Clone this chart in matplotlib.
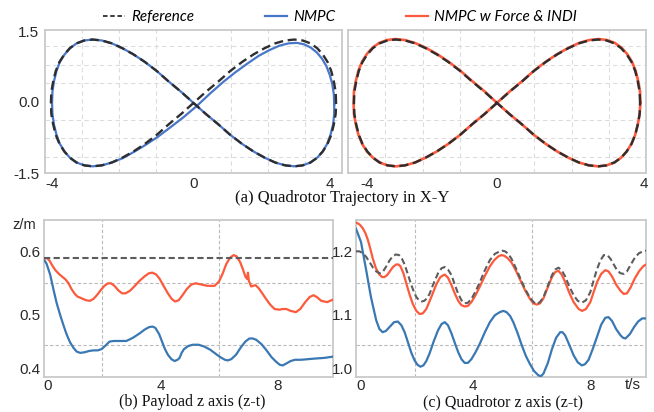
import matplotlib
matplotlib.use("Agg")
import matplotlib.pyplot as plt
import matplotlib.transforms as mtransforms
from matplotlib.lines import Line2D

# ---------------- data ----------------
# (a) X-Y trajectories
ref_x = [3.84, 3.83, 3.78, 3.71, 3.61, 3.48, 3.33, 3.15, 2.94, 2.72, 2.47, 2.20, 1.92, 1.62, 1.31, 0.99, 0.67, 0.33, 0.00,
         -0.33, -0.67, -0.99, -1.31, -1.62, -1.92, -2.20, -2.47, -2.72, -2.94, -3.15, -3.33, -3.48, -3.61, -3.71, -3.78, -3.83, -3.84,
         -3.83, -3.78, -3.71, -3.61, -3.48, -3.33, -3.15, -2.94, -2.72, -2.47, -2.20, -1.92, -1.62, -1.31, -0.99, -0.67, -0.33, 0.00,
         0.33, 0.67, 0.99, 1.31, 1.62, 1.92, 2.20, 2.47, 2.72, 2.94, 3.15, 3.33, 3.48, 3.61, 3.71, 3.78, 3.83, 3.84]
ref_y = [-0.03, 0.20, 0.42, 0.64, 0.83, 0.99, 1.12, 1.22, 1.28, 1.30, 1.28, 1.22, 1.12, 0.99, 0.83, 0.64, 0.42, 0.20, -0.03,
         -0.26, -0.48, -0.70, -0.89, -1.05, -1.18, -1.28, -1.34, -1.36, -1.34, -1.28, -1.18, -1.05, -0.89, -0.70, -0.48, -0.26, -0.03,
         0.20, 0.42, 0.64, 0.83, 0.99, 1.12, 1.22, 1.28, 1.30, 1.28, 1.22, 1.12, 0.99, 0.83, 0.64, 0.42, 0.20, -0.03,
         -0.26, -0.48, -0.70, -0.89, -1.05, -1.18, -1.28, -1.34, -1.36, -1.34, -1.28, -1.18, -1.05, -0.89, -0.70, -0.48, -0.26, -0.03]

nmpc_x = [3.79, 3.78, 3.74, 3.67, 3.58, 3.46, 3.32, 3.16, 2.98, 2.78, 2.56, 2.31, 2.05, 1.76, 1.46, 1.14, 0.80, 0.45, 0.08,
          -0.27, -0.62, -0.96, -1.29, -1.61, -1.91, -2.20, -2.47, -2.72, -2.94, -3.15, -3.33, -3.47, -3.60, -3.69, -3.76, -3.80, -3.81,
          -3.80, -3.76, -3.69, -3.60, -3.47, -3.32, -3.15, -2.94, -2.72, -2.47, -2.20, -1.92, -1.62, -1.31, -0.99, -0.67, -0.33, 0.00,
          0.33, 0.67, 0.99, 1.31, 1.62, 1.92, 2.20, 2.47, 2.72, 2.94, 3.15, 3.33, 3.48, 3.60, 3.69, 3.76, 3.79, 3.79]
nmpc_y = [-0.06, 0.15, 0.36, 0.56, 0.74, 0.90, 1.03, 1.13, 1.20, 1.23, 1.22, 1.17, 1.08, 0.96, 0.80, 0.62, 0.41, 0.17, -0.10,
          -0.33, -0.54, -0.74, -0.91, -1.06, -1.19, -1.28, -1.34, -1.36, -1.34, -1.28, -1.18, -1.05, -0.89, -0.70, -0.48, -0.26, -0.03,
          0.20, 0.42, 0.64, 0.83, 0.99, 1.12, 1.22, 1.28, 1.30, 1.28, 1.22, 1.12, 0.99, 0.83, 0.64, 0.42, 0.20, -0.03,
          -0.26, -0.48, -0.70, -0.89, -1.05, -1.18, -1.28, -1.34, -1.36, -1.34, -1.28, -1.18, -1.05, -0.89, -0.70, -0.48, -0.26, -0.06]

indi_x = [3.85, 3.84, 3.79, 3.72, 3.62, 3.49, 3.34, 3.16, 2.95, 2.73, 2.48, 2.21, 1.93, 1.63, 1.32, 1.00, 0.68, 0.34, 0.01,
          -0.33, -0.67, -0.99, -1.31, -1.62, -1.92, -2.20, -2.47, -2.72, -2.94, -3.15, -3.33, -3.49, -3.62, -3.72, -3.79, -3.84, -3.85,
          -3.84, -3.79, -3.72, -3.62, -3.49, -3.34, -3.16, -2.95, -2.73, -2.48, -2.21, -1.92, -1.62, -1.31, -0.99, -0.67, -0.33, 0.00,
          0.33, 0.67, 0.99, 1.31, 1.62, 1.92, 2.20, 2.47, 2.72, 2.94, 3.15, 3.33, 3.48, 3.61, 3.71, 3.78, 3.83, 3.85]
indi_y = [-0.02, 0.21, 0.43, 0.65, 0.84, 1.00, 1.13, 1.23, 1.29, 1.31, 1.29, 1.23, 1.13, 1.00, 0.84, 0.65, 0.43, 0.21, -0.02,
          -0.26, -0.48, -0.70, -0.89, -1.05, -1.18, -1.28, -1.34, -1.36, -1.34, -1.28, -1.18, -1.05, -0.89, -0.70, -0.48, -0.26, -0.03,
          0.21, 0.43, 0.65, 0.84, 1.00, 1.13, 1.23, 1.29, 1.31, 1.29, 1.23, 1.13, 1.00, 0.84, 0.65, 0.43, 0.21, -0.03,
          -0.26, -0.48, -0.70, -0.89, -1.05, -1.18, -1.28, -1.34, -1.36, -1.34, -1.28, -1.18, -1.05, -0.89, -0.70, -0.48, -0.26, -0.02]

# (b) payload z
payload_ref_t = [0.0, 9.9]
payload_ref_z = [0.59, 0.59]
payload_nmpc_t = [0, 0.1, 0.22, 0.33, 0.44, 0.56, 0.67, 0.78, 0.9, 1.02, 1.13, 1.25, 1.4, 1.55, 1.7, 1.85, 1.98, 2.1,
                  2.25, 2.4, 2.6, 2.83, 3.05, 3.28, 3.45, 3.6, 3.72, 3.82, 3.95, 4.05, 4.15, 4.25, 4.37, 4.48, 4.58,
                  4.65, 4.72, 4.8, 4.95, 5.1, 5.3, 5.5, 5.7, 5.9, 6.05, 6.2, 6.3, 6.42, 6.58, 6.75, 6.9, 7.04, 7.15,
                  7.27, 7.45, 7.61, 7.8, 7.95, 8.08, 8.18, 8.3, 8.45, 8.6, 8.8, 9.05, 9.3, 9.6, 9.9]
payload_nmpc_z = [0.588, 0.580, 0.563, 0.540, 0.518, 0.499, 0.483, 0.468, 0.455, 0.446, 0.440, 0.438, 0.439, 0.441,
                  0.442, 0.442, 0.444, 0.449, 0.456, 0.457, 0.457, 0.457, 0.462, 0.469, 0.475, 0.479, 0.480, 0.478,
                  0.468, 0.456, 0.444, 0.435, 0.428, 0.425, 0.427, 0.430, 0.438, 0.444, 0.449, 0.451, 0.451, 0.448,
                  0.443, 0.436, 0.431, 0.427, 0.426, 0.428, 0.435, 0.447, 0.456, 0.461, 0.461, 0.459, 0.452, 0.443,
                  0.431, 0.424, 0.419, 0.418, 0.421, 0.425, 0.427, 0.427, 0.428, 0.429, 0.430, 0.432]
payload_indi_t = [0, 0.12, 0.2, 0.3, 0.4, 0.5, 0.62, 0.75, 0.85, 0.95, 1.05, 1.15, 1.3, 1.45, 1.58, 1.7, 1.82, 1.95,
                  2.08, 2.2, 2.3, 2.42, 2.55, 2.68, 2.8, 2.95, 3.1, 3.28, 3.45, 3.6, 3.72, 3.85, 3.97, 4.1, 4.25, 4.38,
                  4.5, 4.62, 4.75, 4.9, 5.05, 5.2, 5.4, 5.6, 5.85, 6.0, 6.12, 6.25, 6.38, 6.5, 6.6, 6.72, 6.82, 6.9,
                  6.96, 6.99, 7.02, 7.1, 7.25, 7.36, 7.48, 7.61, 7.75, 7.9, 8.05, 8.2, 8.3, 8.45, 8.63, 8.78, 8.95,
                  9.1, 9.23, 9.35, 9.5, 9.7, 9.9]
payload_indi_z = [0.589, 0.589, 0.585, 0.577, 0.570, 0.565, 0.560, 0.555, 0.549, 0.540, 0.533, 0.528, 0.525, 0.522,
                  0.521, 0.524, 0.530, 0.538, 0.545, 0.549, 0.549, 0.545, 0.538, 0.533, 0.533, 0.537, 0.544, 0.553,
                  0.560, 0.565, 0.566, 0.563, 0.556, 0.545, 0.533, 0.524, 0.520, 0.522, 0.530, 0.540, 0.547, 0.549,
                  0.547, 0.545, 0.545, 0.552, 0.564, 0.580, 0.590, 0.594, 0.592, 0.583, 0.571, 0.560, 0.556, 0.566,
                  0.553, 0.544, 0.546, 0.541, 0.533, 0.524, 0.515, 0.508, 0.507, 0.508, 0.508, 0.505, 0.503, 0.508,
                  0.519, 0.527, 0.530, 0.527, 0.521, 0.519, 0.523]

# (c) quadrotor z
quad_ref_t = [0, 0.12, 0.23, 0.35, 0.46, 0.58, 0.69, 0.8, 0.91, 1.02, 1.14, 1.25, 1.36, 1.47, 1.57, 1.66, 1.78, 1.89,
              1.98, 2.06, 2.15, 2.23, 2.33, 2.42, 2.51, 2.65, 2.8, 2.92, 3.03, 3.14, 3.26, 3.38, 3.49, 3.6, 3.71, 3.82,
              3.94, 4.08, 4.23, 4.4, 4.57, 4.74, 4.91, 5.0, 5.09, 5.2, 5.31, 5.45, 5.6, 5.77, 5.94, 6.06, 6.17, 6.28,
              6.4, 6.55, 6.69, 6.8, 6.91, 7.02, 7.14, 7.28, 7.43, 7.57, 7.71, 7.85, 8.0, 8.12, 8.23, 8.35, 8.46, 8.58,
              8.69, 8.8, 8.91, 9.03, 9.14, 9.25, 9.37, 9.52, 9.66, 9.8, 9.9]
quad_ref_z = [1.200, 1.200, 1.197, 1.191, 1.183, 1.174, 1.168, 1.165, 1.167, 1.175, 1.185, 1.192, 1.195, 1.194, 1.188,
              1.179, 1.162, 1.146, 1.135, 1.127, 1.122, 1.120, 1.121, 1.125, 1.132, 1.149, 1.165, 1.173, 1.175, 1.171,
              1.162, 1.146, 1.132, 1.122, 1.117, 1.118, 1.124, 1.136, 1.151, 1.170, 1.186, 1.196, 1.200, 1.201, 1.200,
              1.196, 1.188, 1.174, 1.158, 1.140, 1.126, 1.119, 1.116, 1.119, 1.127, 1.145, 1.162, 1.171, 1.174, 1.170,
              1.160, 1.144, 1.130, 1.121, 1.118, 1.122, 1.135, 1.155, 1.172, 1.186, 1.194, 1.194, 1.188, 1.179, 1.170,
              1.165, 1.164, 1.168, 1.178, 1.190, 1.197, 1.200, 1.201]
quad_indi_t = [0, 0.12, 0.23, 0.32, 0.4, 0.49, 0.57, 0.68, 0.8, 0.89, 0.97, 1.06, 1.14, 1.26, 1.37, 1.45, 1.52, 1.62,
               1.71, 1.83, 1.94, 2.06, 2.17, 2.28, 2.4, 2.57, 2.74, 2.88, 3.03, 3.14, 3.26, 3.38, 3.49, 3.6, 3.71, 3.82,
               3.94, 4.08, 4.23, 4.4, 4.57, 4.72, 4.86, 4.96, 5.06, 5.18, 5.31, 5.45, 5.6, 5.77, 5.94, 6.06, 6.17, 6.28,
               6.4, 6.55, 6.69, 6.8, 6.91, 7.02, 7.14, 7.28, 7.43, 7.6, 7.72, 7.85, 8.0, 8.12, 8.23, 8.37, 8.51, 8.62,
               8.74, 8.88, 9.03, 9.14, 9.25, 9.37, 9.52, 9.66, 9.8, 9.9]
quad_indi_z = [1.246, 1.243, 1.237, 1.229, 1.219, 1.204, 1.189, 1.173, 1.163, 1.159, 1.159, 1.162, 1.167, 1.175, 1.179,
               1.179, 1.176, 1.165, 1.150, 1.131, 1.116, 1.105, 1.100, 1.101, 1.108, 1.127, 1.147, 1.159, 1.163, 1.158,
               1.146, 1.132, 1.121, 1.114, 1.112, 1.113, 1.119, 1.130, 1.144, 1.161, 1.176, 1.186, 1.192, 1.194, 1.193,
               1.189, 1.182, 1.170, 1.155, 1.138, 1.124, 1.117, 1.115, 1.117, 1.125, 1.143, 1.159, 1.167, 1.169, 1.163,
               1.151, 1.134, 1.119, 1.108, 1.105, 1.108, 1.119, 1.136, 1.151, 1.164, 1.170, 1.168, 1.160, 1.147, 1.137,
               1.132, 1.133, 1.142, 1.157, 1.168, 1.176, 1.179]
quad_nmpc_t = [0, 0.17, 0.34, 0.51, 0.69, 0.8, 0.91, 1.02, 1.14, 1.3, 1.43, 1.55, 1.66, 1.78, 1.89, 2.0, 2.1, 2.2, 2.3,
               2.4, 2.51, 2.65, 2.8, 2.92, 3.03, 3.14, 3.26, 3.38, 3.49, 3.6, 3.71, 3.82, 3.94, 4.08, 4.23, 4.4, 4.57,
               4.74, 4.91, 5.03, 5.14, 5.26, 5.37, 5.52, 5.66, 5.8, 5.94, 6.08, 6.23, 6.32, 6.4, 6.55, 6.69, 6.83,
               6.97, 7.05, 7.14, 7.28, 7.43, 7.57, 7.71, 7.82, 7.94, 8.08, 8.23, 8.37, 8.51, 8.62, 8.74, 8.88, 9.03,
               9.12, 9.2, 9.35, 9.49, 9.63, 9.77, 9.9]
quad_nmpc_z = [1.236, 1.215, 1.172, 1.127, 1.090, 1.076, 1.071, 1.073, 1.079, 1.087, 1.088, 1.082, 1.071, 1.054, 1.038,
               1.026, 1.019, 1.016, 1.018, 1.025, 1.037, 1.056, 1.074, 1.084, 1.087, 1.082, 1.069, 1.053, 1.039, 1.028,
               1.022, 1.022, 1.028, 1.039, 1.053, 1.071, 1.087, 1.098, 1.103, 1.105, 1.103, 1.097, 1.087, 1.069, 1.050,
               1.033, 1.020, 1.009, 1.002, 1.001, 1.005, 1.022, 1.044, 1.062, 1.071, 1.071, 1.066, 1.051, 1.034, 1.023,
               1.018, 1.020, 1.027, 1.044, 1.064, 1.083, 1.094, 1.095, 1.089, 1.076, 1.066, 1.062, 1.061, 1.068, 1.079,
               1.088, 1.093, 1.093]

legend_labels = ["Reference", "NMPC", "NMPC w Force & INDI"]
captions = ["(a) Quadrotor Trajectory in X-Y", "(b) Payload z axis (z-t)", "(c) Quadrotor z axis (z-t)"]

# ---------------- style ----------------
TICKFONT = "Liberation Sans"
SERIF = "Liberation Serif"
LEGFONT = "Lato"
SPINE_C = "#c9c9c9"
BLUE_TOP = "#4876c9"
BLUE_BOT = "#3a78b3"
RED = "#fb5a3c"
REF_TOP = "#2e2e2e"
REF_BOT = "#5c5c5c"
TICK_FS = 11

fig = plt.figure(figsize=(6.54, 4.12), dpi=100)
W, H = 654.0, 412.0


def place(x0, y0, x1, y1):
    return fig.add_axes([x0 / W, 1 - y1 / H, (x1 - x0) / W, (y1 - y0) / H])


def shift(lbl, dx_px, dy_px):
    lbl.set_transform(lbl.get_transform() +
                      mtransforms.ScaledTranslation(dx_px / 100.0, dy_px / 100.0, fig.dpi_scale_trans))


def frame(ax, gridc, gls):
    for s in ax.spines.values():
        s.set_color(SPINE_C)
        s.set_linewidth(1.3)
    ax.tick_params(which="both", length=0, labelsize=TICK_FS, labelcolor="#2a2a2a")
    ax.grid(which="minor", color=gridc, linewidth=0.8, linestyle=gls)
    ax.grid(which="major", visible=False)
    ax.set_axisbelow(True)
    for l in ax.get_xticklabels() + ax.get_yticklabels():
        l.set_fontfamily(TICKFONT)


# ---- (a) top panels ----
axL = place(45, 30, 342, 173)
axR = place(348, 30, 646, 173)
for ax in (axL, axR):
    ax.set_xlim(-4, 4)
    ax.set_ylim(-1.5, 1.5)
    ax.set_xticks([-4, 0, 4])
    ax.set_xticklabels(["-4", "0", "4"])
    ax.set_xticks([-3, -2, -1, 0, 1, 2, 3], minor=True)
    ax.set_yticks([-1.155, -0.77, -0.385, 0, 0.385, 0.77, 1.155], minor=True)
    ax.set_yticks([-1.5, 0, 1.5])
axL.set_yticklabels(["-1.5", "0.0", "1.5"])
axR.set_yticklabels([])
for ax in (axL, axR):
    frame(ax, "#dcdcdc", (0, (4, 3)))
    ax.tick_params(axis="x", pad=3)
    ax.tick_params(axis="y", pad=4)

axL.plot(nmpc_x, nmpc_y, color=BLUE_TOP, lw=1.6, solid_joinstyle="round", zorder=3)
axL.plot(ref_x, ref_y, color=REF_TOP, lw=1.7, dashes=(3.8, 2.0), zorder=4)
axR.plot(indi_x, indi_y, color=RED, lw=1.9, solid_joinstyle="round", zorder=3)
axR.plot(ref_x, ref_y, color=REF_TOP, lw=1.7, dashes=(3.8, 2.0), zorder=4)

xl = axL.get_xticklabels()
xl[0].set_horizontalalignment("left")
xl[2].set_horizontalalignment("right"); shift(xl[2], -8, 0)
yl = axL.get_yticklabels()
yl[0].set_verticalalignment("center"); shift(yl[0], 0, -2)
yl[2].set_verticalalignment("center"); shift(yl[2], 0, -3)
xr = axR.get_xticklabels()
xr[0].set_horizontalalignment("left"); shift(xr[0], 12, 0)
xr[2].set_horizontalalignment("center"); shift(xr[2], -2, 0)

# ---- (b) payload ----
axB = place(43.7, 220, 333, 376.7)
axB.set_xlim(0, 9.9)
axB.set_ylim(0.4, 0.65)
axB.set_xticks([0, 4, 8])
axB.set_xticks([2, 4, 6, 8], minor=True)
axB.set_yticks([0.4, 0.5, 0.6])
axB.set_yticks([0.45, 0.5, 0.55, 0.6], minor=True)
axB.set_yticklabels(["0.4", "0.5", "0.6"])
frame(axB, "#b9b9b9", (0, (3, 2)))
axB.tick_params(axis="y", pad=2)
axB.tick_params(axis="x", pad=1.5)
axB.plot(payload_ref_t, payload_ref_z, color=REF_BOT, lw=1.5, dashes=(3.0, 1.6), zorder=4)
axB.plot(payload_nmpc_t, payload_nmpc_z, color=BLUE_BOT, lw=1.6, solid_joinstyle="round", zorder=3)
axB.plot(payload_indi_t, payload_indi_z, color=RED, lw=1.6, solid_joinstyle="round", zorder=3)
axB.get_xticklabels()[0].set_horizontalalignment("left")
axB.get_yticklabels()[0].set_verticalalignment("bottom")
fig.text(24 / W, 1 - 225 / H, "z/m", fontsize=10.5, family=TICKFONT, color="#2a2a2a", ha="center", va="center")

# ---- (c) quadrotor z ----
axC = place(356, 220, 646, 376.7)
axC.set_xlim(0, 9.9)
axC.set_ylim(1.0, 1.25)
axC.set_xticks([0, 4, 8])
axC.set_xticks([2, 4, 6, 8], minor=True)
axC.set_yticks([1.0, 1.1, 1.2])
axC.set_yticks([1.05, 1.1, 1.15, 1.2], minor=True)
axC.set_yticklabels(["1.0", "1.1", "1.2"])
frame(axC, "#b9b9b9", (0, (3, 2)))
axC.tick_params(axis="y", pad=2)
axC.tick_params(axis="x", pad=1.5)
axC.plot(quad_ref_t, quad_ref_z, color=REF_BOT, lw=1.5, dashes=(3.0, 1.6), zorder=4)
axC.plot(quad_nmpc_t, quad_nmpc_z, color=BLUE_BOT, lw=1.6, solid_joinstyle="round", zorder=3)
axC.plot(quad_indi_t, quad_indi_z, color=RED, lw=1.6, solid_joinstyle="round", zorder=3)
axC.get_xticklabels()[0].set_horizontalalignment("left")
axC.get_yticklabels()[0].set_verticalalignment("bottom")
fig.text(633 / W, 1 - 385 / H, "t/s", fontsize=TICK_FS, family=TICKFONT, color="#2a2a2a", ha="center", va="center")

# ---- captions ----
fig.text(342 / W, 1 - 198 / H, captions[0], fontsize=12, family=SERIF, ha="center", va="center", color="#111111")
fig.text(192 / W, 1 - 402 / H, captions[1], fontsize=11.5, family=SERIF, ha="center", va="center", color="#111111")
fig.text(503 / W, 1 - 402 / H, captions[2], fontsize=11.5, family=SERIF, ha="center", va="center", color="#111111")

# ---- legend ----
handles = [Line2D([], [], color=REF_TOP, lw=1.3, dashes=(2.5, 1.5)),
           Line2D([], [], color=BLUE_TOP, lw=1.6),
           Line2D([], [], color=RED, lw=1.6)]
leg = fig.legend(handles, legend_labels, loc="center", bbox_to_anchor=(340 / W, 1 - 17 / H), ncol=3,
                 frameon=False, handlelength=1.45, handletextpad=0.4, columnspacing=4.6,
                 prop={"family": LEGFONT, "style": "italic", "size": 11})

fig.savefig("out.png", dpi=100, facecolor="white")
